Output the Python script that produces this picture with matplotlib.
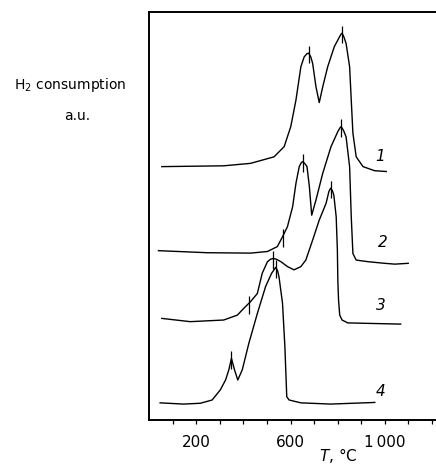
import numpy as np
import matplotlib as mpl
from matplotlib import pyplot as plt

# TPR curves, temperature (deg C) vs H2 consumption (a.u., curves offset)
t1 = [53, 316, 430, 530, 573, 601, 623, 644, 658, 670, 677, 686, 694, 708, 722, 737,
      758, 786, 808, 815, 819, 826, 836, 851, 858, 865, 879, 908, 957, 1007]
y1 = [62.1, 62.3, 62.9, 64.5, 67.0, 71.9, 78.4, 86.6, 89.0, 89.8, 89.9, 89.0, 87.4,
      81.7, 77.8, 81.7, 86.6, 91.5, 93.9, 94.6, 94.8, 94.0, 92.3, 86.6, 78.4, 70.3,
      64.5, 62.1, 61.1, 60.9]

t2 = [39, 245, 430, 502, 544, 566, 587, 609, 623, 637, 646, 651, 660, 670, 680, 690,
      708, 737, 772, 801, 810, 815, 825, 836, 851, 858, 865, 879, 929, 1000, 1043, 1100]
y2 = [41.5, 41.0, 40.9, 41.3, 42.5, 44.9, 47.4, 52.3, 58.0, 62.1, 63.1, 63.3, 62.9,
      62.1, 57.2, 50.2, 53.9, 60.5, 67.0, 70.7, 71.6, 71.9, 71.0, 69.4, 62.1, 49.8,
      40.8, 39.2, 38.8, 38.4, 38.2, 38.4]

t3 = [53, 174, 316, 374, 402, 430, 459, 480, 502, 515, 527, 540, 559, 587, 615, 644,
      665, 694, 722, 751, 763, 770, 778, 784, 794, 799, 801, 804, 809, 819, 843, 915, 1068]
y3 = [24.9, 24.1, 24.5, 25.7, 27.4, 29.0, 31.0, 36.0, 38.8, 39.4, 39.6, 39.4, 38.8,
      37.6, 36.8, 37.6, 39.2, 44.1, 49.0, 53.1, 56.0, 56.8, 56.2, 55.1, 49.8, 41.7,
      34.3, 29.4, 25.7, 24.5, 23.8, 23.7, 23.5]

t4 = [46, 145, 217, 267, 302, 324, 338, 349, 362, 376, 395, 423, 459, 494, 520, 530,
      537, 545, 551, 566, 576, 584, 594, 644, 770, 958]
y4 = [4.2, 3.9, 4.1, 4.9, 7.4, 9.8, 12.3, 15.1, 12.3, 9.8, 12.3, 18.8, 26.1, 32.7,
      36.0, 36.8, 37.4, 36.6, 35.1, 28.6, 18.0, 5.7, 4.9, 4.2, 3.9, 4.3]

# peak positions marked on each curve
peaks1 = [677, 819]
peaks2 = [566, 651, 815]
peaks3 = [422, 527, 770]
peaks4 = [349, 537]

labels = ["1", "2", "3", "4"]
label_t = [982, 990, 982, 982]
label_y = [64.5, 43.5, 28.0, 7.0]

xticks = list(range(100, 1300, 100))
named = {200: "200", 600: "600", 1000: "1\u2009000"}
xticklabels = [named.get(t, "") for t in xticks]

mpl.rcParams['font.family'] = 'DejaVu Sans'
fig = plt.figure(figsize=(4.36, 4.65), dpi=100)
ax = fig.add_axes([0.3424, 0.0968, 0.6576, 0.8774])

curves = [(t1, y1, peaks1), (t2, y2, peaks2), (t3, y3, peaks3), (t4, y4, peaks4)]
for t, y, peaks in curves:
    ax.plot(t, y, color='black', lw=1.0)
    py = np.interp(peaks, t, y)
    ax.vlines(peaks, py - 2.5, py + 1.8, color='black', lw=0.9)

for lab, lt, ly in zip(labels, label_t, label_y):
    ax.text(lt, ly, lab, fontsize=11, style='italic', ha='center', va='center')

ax.set_xlim(0, 1218)
ax.set_ylim(0, 100)
ax.set_xticks(xticks)
ax.set_xticklabels(xticklabels, fontsize=11)
ax.set_yticks([])
ax.tick_params(axis='x', direction='out', length=3, width=0.9, pad=8)
ax.spines['right'].set_visible(False)
for s in ['left', 'bottom', 'top']:
    ax.spines[s].set_linewidth(1.4)

fig.text(0.161, 0.817, "H$_2$ consumption", fontsize=10, ha='center', va='center')
fig.text(0.177, 0.75, "a.u.", fontsize=10, ha='center', va='center')
ax.text(802, -8.8, "$T$, °C", fontsize=11, ha='center', va='center', clip_on=False)

fig.savefig('out.png', dpi=100)
